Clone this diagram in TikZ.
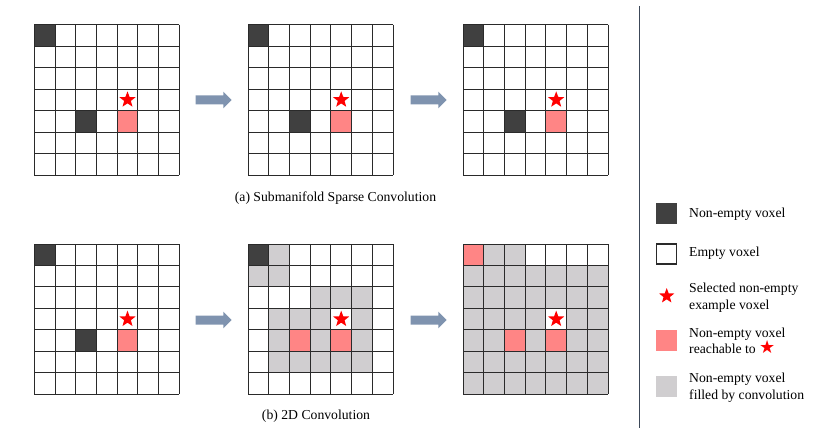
\documentclass[tikz,border=0pt]{standalone}
\usepackage{fontspec}
\setmainfont{Liberation Serif}
\newfontfamily\symfont{DejaVu Sans}
\usetikzlibrary{shapes.geometric}
\definecolor{darkvox}{HTML}{404040}
\definecolor{pinkvox}{HTML}{FF8585}
\definecolor{grayvox}{HTML}{D0CED0}
\definecolor{arrowcol}{HTML}{7F93AF}
\definecolor{sepcol}{HTML}{3C4858}
\definecolor{gridcol}{HTML}{2A2A2A}
\tikzset{
  gridline/.style={draw=gridcol,line width=0.9pt},
  starnode/.style={star,star points=5,star point ratio=2.4,fill=red,draw=none,inner sep=0pt,minimum size=17pt},
  legendbox/.style={minimum width=21pt,minimum height=21pt,inner sep=0pt},
  legendtext/.style={anchor=west,align=left,inner sep=0pt,font=\fontsize{13.7}{16.5}\selectfont},
  captiontext/.style={inner sep=0pt,font=\fontsize{13.7}{16.5}\selectfont},
  blockarrow/.style={fill=arrowcol,draw=none}
}
\newcommand\voxgrid[3]{%
  \begin{scope}[shift={(#1,#2)},x=20.71pt,y=-21.47pt]
    #3
    \foreach \i in {0,...,7}{\draw[gridline] (\i,0) -- (\i,7); \draw[gridline] (0,\i) -- (7,\i);}
  \end{scope}}
\newcommand\cellfill[3]{\fill[#3] (#1,#2) rectangle ++(1,1);}
\newcommand\blockarr[2]{\fill[blockarrow] (#1,#2-4.5) -- ++(27.6,0) -- ++(0,-3.8) -- (#1+36,#2) -- (#1+27.6,#2+8.3) -- ++(0,-3.8) -- (#1,#2+4.5) -- cycle;}
\begin{document}
\begin{tikzpicture}[x=1pt,y=-1pt]
\useasboundingbox (0,0) rectangle (826,438);
% top row: submanifold
\foreach \gx in {34.3,248,463}{
\voxgrid{\gx}{24.7}{%
  \cellfill{0}{0}{darkvox}\cellfill{2}{4}{darkvox}\cellfill{4}{4}{pinkvox}
  \node[starnode] at (4.5,3.5) {};}
}
% bottom left
\voxgrid{34.3}{244}{%
  \cellfill{0}{0}{darkvox}\cellfill{2}{4}{darkvox}\cellfill{4}{4}{pinkvox}
  \node[starnode] at (4.5,3.5) {};}
% bottom middle
\voxgrid{248}{244}{%
  \cellfill{0}{0}{darkvox}
  \foreach \c/\r in {1/0,0/1,1/1,3/2,4/2,5/2,1/3,2/3,3/3,5/3,1/4,3/4,5/4,1/5,2/5,3/5,4/5,5/5}{\cellfill{\c}{\r}{grayvox}}
  \cellfill{2}{4}{pinkvox}\cellfill{4}{4}{pinkvox}
  \node[starnode] at (4.5,3.5) {};}
% bottom right
\voxgrid{463}{244}{%
  \fill[grayvox] (0,1) rectangle (7,7);
  \fill[grayvox] (1,0) rectangle (3,1);
  \fill[white] (4,3) rectangle (5,4);
  \cellfill{0}{0}{pinkvox}\cellfill{2}{4}{pinkvox}\cellfill{4}{4}{pinkvox}
  \node[starnode] at (4.5,3.5) {};}
% arrows
\blockarr{195.7}{100}
\blockarr{410.7}{100}
\blockarr{195.7}{320}
\blockarr{410.7}{320}
% captions
\node[captiontext] (capa) at (335.5,198) {(a) Submanifold Sparse Convolution};
\node[captiontext] (capb) at (316,416) {(b) 2D Convolution};
% separator
\draw[sepcol,line width=1.4pt] (639.7,6) -- (639.7,428);
% legend
\node[legendbox,fill=darkvox] (l1) at (666.2,213.8) {};
\node[legendtext] (t1) at (689,214) {Non-empty voxel};
\node[legendbox,fill=white,draw=gridcol,line width=1.3pt,minimum width=20pt,minimum height=20pt] (l2) at (666.2,254) {};
\node[legendtext] (t2) at (689,253.5) {Empty voxel};
\node[starnode,minimum size=16pt] (l3) at (666.7,296) {};
\node[legendtext] (t3) at (689,297.5) {Selected non-empty\\example voxel};
\node[legendbox,fill=pinkvox] (l4) at (666.2,340.5) {};
\node[legendtext] (t4) at (689,341) {Non-empty voxel\\reachable to \textcolor{red}{\symfont\fontsize{18}{15}\selectfont ★}};
\node[legendbox,fill=grayvox] (l5) at (666.2,386.2) {};
\node[legendtext] (t5) at (689,387.5) {Non-empty voxel\\filled by convolution};
\end{tikzpicture}
\end{document}
